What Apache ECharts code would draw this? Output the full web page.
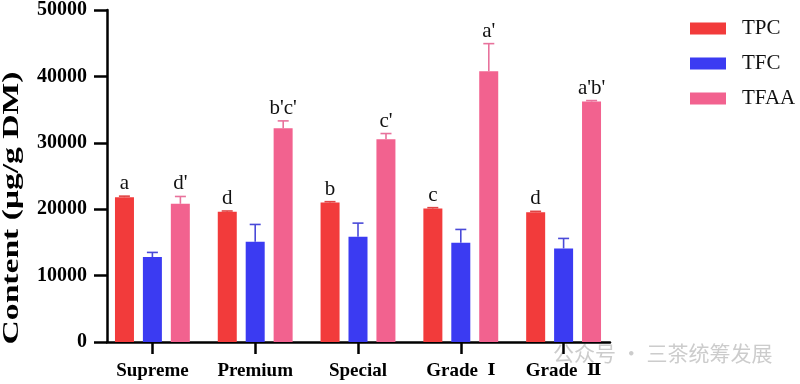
<!DOCTYPE html>
<html><head><meta charset="utf-8">
<script src="https://cdn.jsdelivr.net/npm/echarts@6/dist/echarts.min.js"></script>
<style>html,body{margin:0;padding:0;background:#fff}#c{width:800px;height:384px}</style>
</head><body><div id="c"></div>
<script>
const categories = ['Supreme', 'Premium', 'Special', 'Grade Ⅰ', 'Grade Ⅱ'];
const seriesNames = ['TPC', 'TFC', 'TFAA'];
const tpc = [21750, 19550, 20950, 20050, 19500];
const tpcErr = [150, 120, 120, 120, 120];
const tfc = [12750, 15050, 15800, 14900, 14050];
const tfcErr = [700, 2600, 2050, 2000, 1500];
const tfaa = [20750, 32100, 30450, 40650, 36100];
const tfaaErr = [1100, 1100, 850, 4150, 150];
const tpcLetters = ['a', 'd', 'b', 'c', 'd'];
const tfaaLetters = ["d'", "b'c'", "c'", "a'", "a'b'"];
const yTicks = { min: 0, max: 50000, interval: 10000 };
const yTitle = 'Content (μg/g DM)';
const watermark = '公众号 · 三茶统筹发展';

const SERIF = '"Liberation Serif","Times New Roman",serif';
const COLORS = ['#F23B3B', '#3B3BF2', '#F2628F'];
const ERR_COLORS = ['#E04444', '#4A4AD8', '#E8729C'];
const OFFSETS = [-28, 0, 28];

function errSeries(idx, vals, errs, letters) {
  return {
    type: 'custom', name: seriesNames[idx] + '_err', xAxisIndex: 0, yAxisIndex: 0, z: 3,
    silent: true,
    data: vals.map((v, i) => [i, v, errs[i]]),
    renderItem: function (params, api) {
      const i = api.value(0), v = api.value(1), e = api.value(2);
      const base = api.coord([i, v]);
      const top = api.coord([i, v + e]);
      const x = base[0] + OFFSETS[idx];
      const c = ERR_COLORS[idx];
      const children = [
        { type: 'line', shape: { x1: x, y1: base[1], x2: x, y2: top[1] }, style: { stroke: c, lineWidth: 1.6 } },
        { type: 'line', shape: { x1: x - 5.5, y1: top[1], x2: x + 5.5, y2: top[1] }, style: { stroke: c, lineWidth: 1.6 } }
      ];
      const lab = letters ? letters[params.dataIndex] : '';
      if (lab) children.push({ type: 'text', x: x, y: top[1] - 2,
        style: { text: lab, fontFamily: SERIF, fontSize: 21, fill: '#111', align: 'center', verticalAlign: 'bottom' } });
      return { type: 'group', children: children };
    }
  };
}

function barSeries(idx, vals) {
  return { type: 'bar', name: seriesNames[idx], xAxisIndex: 0, yAxisIndex: 0,
    data: vals, barWidth: 19, barGap: '47%', itemStyle: { color: COLORS[idx] } };
}

function catLabel(v) {
  const m = v.match(/^(.*?)\s*([\u2160-\u216F])$/);
  return m ? '{g|' + m[1] + '  }{r|' + m[2] + '}' : '{g|' + v + '}';
}

const chart = echarts.init(document.getElementById('c'), null, { renderer: 'canvas' });
chart.setOption({
  animation: false,
  backgroundColor: '#fff',
  grid: [
    { left: 101, right: 185, top: 9, bottom: 42 },
    { left: 107, right: 190, top: 9, bottom: 42 }
  ],
  legend: {
    orient: 'vertical', left: 685, top: 13, itemWidth: 36, itemHeight: 12, itemGap: 14,
    icon: 'rect', selectedMode: false, data: seriesNames,
    textStyle: { fontFamily: SERIF, fontSize: 21, color: '#111', padding: [0, 0, 0, 11] }
  },
  xAxis: [
    { type: 'category', gridIndex: 0, data: categories,
      axisLine: { show: false },
      axisTick: { show: true, alignWithLabel: true, length: 12, lineStyle: { color: '#000', width: 2.5 } },
      axisLabel: { interval: 0, margin: 17, formatter: catLabel,
        rich: {
          g: { fontFamily: SERIF, fontWeight: 'bold', fontSize: 19, color: '#000', lineHeight: 24 },
          r: { fontFamily: '"DejaVu Serif"', fontWeight: 'bold', fontSize: 17, color: '#000', lineHeight: 24 }
        } },
      splitLine: { show: false } },
    { type: 'value', gridIndex: 1, min: 0, max: 1,
      axisLine: { show: true, lineStyle: { color: '#000', width: 2.5 } },
      axisTick: { show: false }, axisLabel: { show: false }, splitLine: { show: false } }
  ],
  yAxis: [
    { type: 'value', gridIndex: 0, min: yTicks.min, max: yTicks.max, interval: yTicks.interval, show: false, splitLine: { show: false } },
    { type: 'value', gridIndex: 1, min: yTicks.min, max: yTicks.max, interval: yTicks.interval,
      axisLine: { show: true, lineStyle: { color: '#000', width: 2.5 } },
      axisTick: { show: true, length: 13, lineStyle: { color: '#000', width: 2.5 } },
      axisLabel: { fontFamily: SERIF, fontWeight: 'bold', fontSize: 20, color: '#000', margin: 20,
        formatter: v => String(v) },
      splitLine: { show: false } }
  ],
  graphic: [
    { type: 'text', x: 12, y: 208, rotation: Math.PI / 2, scaleX: 1.4,
      style: { text: yTitle, fontFamily: SERIF, fontWeight: 'bold', fontSize: 24, fill: '#000', align: 'center', verticalAlign: 'middle' } },
    { type: 'text', x: 553, y: 353,
      style: { text: watermark, fontFamily: '"Noto Sans CJK SC"', fontSize: 21, fill: 'rgba(170,170,170,0.6)', align: 'left', verticalAlign: 'middle' } }
  ],
  series: [
    barSeries(0, tpc), barSeries(1, tfc), barSeries(2, tfaa),
    errSeries(0, tpc, tpcErr, tpcLetters),
    errSeries(1, tfc, tfcErr, null),
    errSeries(2, tfaa, tfaaErr, tfaaLetters)
  ]
});
</script>
</body></html>
